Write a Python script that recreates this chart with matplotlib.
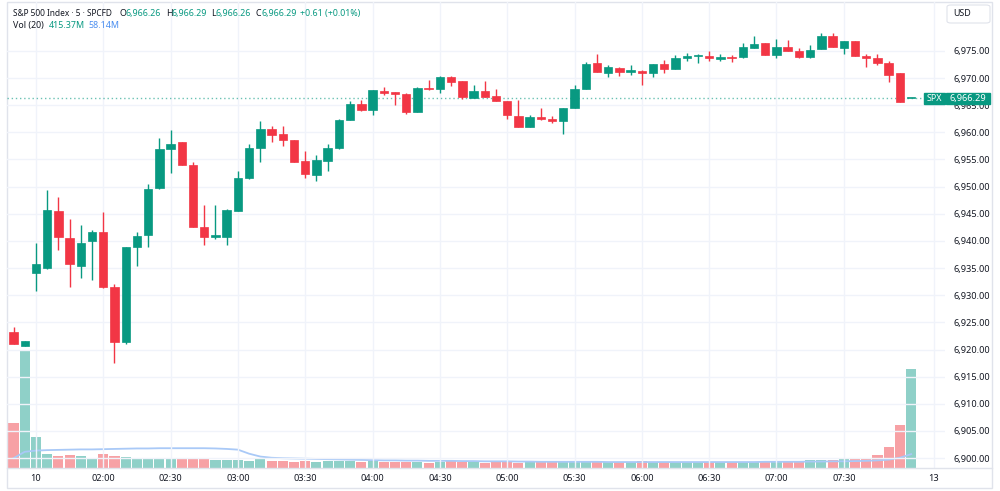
import numpy as np
import matplotlib
matplotlib.use("Agg")
import matplotlib.pyplot as plt
from matplotlib.patches import Rectangle, FancyBboxPatch

plt.rcParams['font.family'] = ['Noto Sans', 'DejaVu Sans']

# ---------------------------- data ----------------------------
opens = [6923.2, 6920.7, 6934.1, 6935.0, 6945.6, 6940.6, 6935.4, 6939.9, 6941.6, 6931.6,
         6921.3, 6938.8, 6941.1, 6949.8, 6956.9, 6958.2, 6954.0, 6942.5, 6940.8, 6940.8,
         6945.6, 6951.5, 6957.1, 6960.6, 6959.6, 6958.5, 6954.8, 6952.2, 6954.8, 6957.1,
         6962.2, 6965.2, 6964.1, 6967.7, 6967.4, 6967.1, 6963.8, 6968.1, 6968.0, 6970.2,
         6969.4, 6966.4, 6967.6, 6966.6, 6965.8, 6963.0, 6961.0, 6962.9, 6962.5, 6962.0,
         6964.4, 6967.9, 6972.7, 6971.0, 6971.8, 6971.1, 6971.3, 6970.9, 6972.5, 6971.6,
         6973.6, 6974.0, 6974.1, 6973.5, 6973.9, 6973.9, 6975.6, 6976.4, 6974.2, 6975.8,
         6975.0, 6973.9, 6975.3, 6977.7, 6975.6, 6976.9, 6974.0, 6973.7, 6972.8, 6970.9,
         6966.26]
highs = [6924.1, 6921.5, 6939.6, 6949.3, 6948.1, 6944.1, 6942.9, 6942.0, 6945.3, 6932.1,
         6938.9, 6941.6, 6950.4, 6959.0, 6960.4, 6958.3, 6954.5, 6946.7, 6946.6, 6945.8,
         6952.9, 6957.8, 6962.0, 6961.2, 6961.2, 6958.5, 6956.6, 6955.8, 6957.9, 6962.5,
         6965.8, 6965.9, 6967.8, 6968.4, 6967.4, 6967.3, 6968.3, 6969.6, 6970.4, 6970.4,
         6969.4, 6968.7, 6969.5, 6967.9, 6965.8, 6966.0, 6963.2, 6964.4, 6963.0, 6964.4,
         6968.7, 6973.0, 6974.4, 6972.4, 6972.1, 6972.4, 6971.5, 6972.5, 6973.3, 6974.2,
         6974.6, 6974.4, 6975.0, 6974.4, 6974.3, 6976.5, 6977.8, 6976.4, 6977.2, 6977.0,
         6975.5, 6976.0, 6978.3, 6978.3, 6976.9, 6976.9, 6974.5, 6974.5, 6973.1, 6970.9,
         6966.29]
lows = [6921.0, 6920.7, 6930.8, 6934.9, 6938.3, 6931.6, 6933.1, 6932.8, 6931.4, 6917.6,
        6921.1, 6935.4, 6938.8, 6949.6, 6952.6, 6953.9, 6942.6, 6939.2, 6940.3, 6939.2,
        6945.5, 6951.4, 6954.6, 6958.2, 6957.5, 6954.5, 6951.5, 6951.1, 6952.9, 6957.0,
        6962.2, 6964.0, 6963.2, 6966.9, 6965.0, 6963.4, 6963.8, 6967.8, 6967.3, 6968.5,
        6966.2, 6966.4, 6966.5, 6965.8, 6962.5, 6960.9, 6961.0, 6962.3, 6961.8, 6959.7,
        6964.4, 6967.9, 6971.1, 6970.2, 6970.4, 6970.6, 6968.8, 6970.2, 6970.9, 6971.6,
        6973.2, 6972.8, 6973.2, 6973.2, 6973.0, 6973.6, 6975.6, 6974.2, 6973.6, 6974.9,
        6973.7, 6973.7, 6975.3, 6975.8, 6974.5, 6974.0, 6972.1, 6972.4, 6969.3, 6965.6,
        6966.26]
closes = [6921.0, 6921.5, 6935.7, 6945.7, 6940.7, 6935.8, 6939.6, 6941.6, 6931.5, 6921.3,
          6938.8, 6940.9, 6949.6, 6957.0, 6957.9, 6954.0, 6942.6, 6940.8, 6941.0, 6945.7,
          6951.6, 6957.1, 6960.6, 6959.5, 6958.6, 6954.6, 6952.3, 6954.9, 6957.2, 6962.2,
          6965.2, 6964.2, 6967.8, 6967.2, 6967.1, 6963.7, 6968.2, 6967.9, 6970.1, 6969.2,
          6966.5, 6967.7, 6966.5, 6965.8, 6963.1, 6960.9, 6962.9, 6962.5, 6962.0, 6964.4,
          6967.9, 6972.6, 6971.1, 6972.0, 6971.1, 6971.4, 6970.9, 6972.5, 6971.7, 6973.7,
          6974.0, 6974.2, 6973.6, 6973.9, 6973.7, 6975.8, 6976.2, 6974.2, 6975.8, 6974.9,
          6973.9, 6975.2, 6977.7, 6975.8, 6976.9, 6974.0, 6973.7, 6972.7, 6970.5, 6965.6,
          6966.29]

# volume in millions
volumes = [189, 490, 129, 59, 50, 53, 50, 42, 57, 52,
           45, 39, 39, 39, 42, 36, 41, 36, 32, 34,
           34, 31, 36, 28, 28, 24, 28, 24, 28, 28,
           28, 24, 28, 24, 24, 24, 24, 21, 24, 31,
           25, 25, 21, 24, 24, 21, 24, 24, 24, 25,
           25, 24, 25, 25, 24, 25, 28, 25, 25, 25,
           25, 25, 25, 25, 24, 25, 25, 28, 28, 28,
           28, 32, 35, 35, 43, 41, 43, 53, 87, 182,
           415]
vol_ma = [41, 68, 73, 75, 76, 77, 78, 78, 79, 80,
          81, 82, 82, 83, 83, 83, 83, 83, 82, 80,
          77, 60, 48, 43, 41, 40, 39, 38, 37, 36,
          35, 34, 33, 32, 32, 31, 31, 30, 30, 30,
          29, 29, 28, 28, 28, 27, 27, 26, 26, 26,
          26, 26, 26, 25, 25, 25, 25, 25, 25, 25,
          25, 25, 25, 25, 25, 25, 25, 26, 26, 26,
          26, 27, 27, 28, 28, 29, 30, 32, 35, 43,
          58]

tick_idx = [2, 8, 14, 20, 26, 32, 38, 44, 50, 56, 62, 68, 74, 82]
tick_labels = ['10', '02:00', '02:30', '03:00', '03:30', '04:00', '04:30',
               '05:00', '05:30', '06:00', '06:30', '07:00', '07:30', '13']
price_ticks = list(range(6900, 6980, 5))
last_price = 6966.29

# ---------------------------- styling ----------------------------
UP = '#089981'
DOWN = '#f23645'
UP_VOL = '#8fd0c8'
DOWN_VOL = '#f7a1a5'
GRID = '#f0f3fa'
TXT = '#131722'

W, H = 1000, 491
def fx(x):
    return x / W
def fy(y):
    return 1 - y / H

fig = plt.figure(figsize=(10, 4.91), dpi=100)

left, right, top, bottom = 7, 945, 2, 468
vol_ax = fig.add_axes([fx(left), fy(bottom), fx(right - left), (bottom - top) / H])
ax = vol_ax.twinx()
vol_ax.set_zorder(0)
ax.set_zorder(1)
ax.patch.set_visible(False)

idx = np.arange(len(opens))
o = np.array(opens); c = np.array(closes)
hi = np.array(highs); lo = np.array(lows)
up = c >= o
colors = np.where(up, UP, DOWN)

# volume
vol_colors = np.where(up, UP_VOL, DOWN_VOL)
vol_ax.bar(idx, volumes, width=0.9, color=vol_colors, linewidth=0)
vol_ax.plot(idx, vol_ma, color='#a9c9f7', lw=1.3)
vol_ax.set_ylim(0, 1955)
vol_ax.set_yticks([])

# grid
for p in price_ticks:
    ax.axhline(p, color=GRID, lw=1, zorder=0)
for t in tick_idx:
    ax.axvline(t, color=GRID, lw=1, zorder=0)

# candles
ax.vlines(idx, lo, hi, colors=colors, lw=1, zorder=2)
body_bottom = np.minimum(o, c)
body_h = np.maximum(np.abs(c - o), 0.2)
ax.bar(idx, body_h, bottom=body_bottom, width=0.75, color=colors,
       edgecolor=colors, linewidth=0.5, zorder=3)

# last price dotted line
ax.axhline(last_price, color=UP, lw=1, ls=(0, (1, 2)), alpha=0.6, zorder=1)

vol_ax.set_xlim(-0.58, 83.02)
ax.set_ylim(6898.18, 6984.0)

ax.yaxis.tick_right()
ax.set_yticks(price_ticks)
ax.set_yticklabels([f'{p:,.2f}' for p in price_ticks])
ax.tick_params(axis='y', length=0, pad=6, labelsize=6.6, labelcolor=TXT)
vol_ax.set_xticks(tick_idx)
vol_ax.set_xticklabels(tick_labels)
vol_ax.tick_params(axis='x', length=0, pad=4, labelsize=6.6, labelcolor=TXT)
vol_ax.get_xticklabels()[-1].set_fontweight('bold')

for a in (ax, vol_ax):
    for s in a.spines.values():
        s.set_visible(False)

# frame and time axis separator
fig.add_artist(Rectangle((fx(7), fy(488)), fx(985), (488 - 2) / H,
                         transform=fig.transFigure, fill=False,
                         edgecolor='#e0e3eb', lw=1))
fig.add_artist(plt.Line2D([fx(7), fx(992)], [fy(468), fy(468)],
                          transform=fig.transFigure, color='#e0e3eb', lw=1))

# price label boxes
fig.add_artist(Rectangle((fx(924), fy(104)), fx(21), 11 / H, transform=fig.transFigure,
                         color=UP, zorder=5))
fig.add_artist(Rectangle((fx(946), fy(104)), fx(44), 11 / H, transform=fig.transFigure,
                         color=UP, zorder=5))
fig.text(fx(934.5), fy(98.5), 'SPX', color='white', fontsize=6.4, ha='center',
         va='center', zorder=6)
fig.text(fx(968), fy(98.5), f'{last_price:,.2f}', color='white', fontsize=6.6,
         ha='center', va='center', zorder=6)

# USD box
fig.add_artist(FancyBboxPatch((fx(947), fy(23)), fx(43), 18 / H,
                              boxstyle='round,pad=0,rounding_size=0.004',
                              transform=fig.transFigure, facecolor='white',
                              edgecolor='#e0e3eb', lw=0.8, zorder=5))
fig.text(fx(962), fy(14), 'USD', color=TXT, fontsize=6.4, ha='center', va='center', zorder=6)

# legend
line1 = [(13, 'S&P 500 Index · 5 · SPCFD', TXT, 6.0),
         (120, 'O', TXT, 6.4), (126, '6,966.26', UP, 6.4),
         (166, 'H', TXT, 6.4), (172, '6,966.29', UP, 6.4),
         (211, 'L', TXT, 6.4), (216, '6,966.26', UP, 6.4),
         (255, 'C', TXT, 6.4), (261, '6,966.29', UP, 6.4),
         (300, '+0.61 (+0.01%)', UP, 6.4)]
for x, s, col, fs in line1:
    fig.text(fx(x), fy(13.5), s, color=col, fontsize=fs, ha='left', va='center')
line2 = [(13, 'Vol (20)', TXT), (49, '415.37M', UP), (88, '58.14M', '#4a8ef0')]
for x, s, col in line2:
    fig.text(fx(x), fy(25.5), s, color=col, fontsize=6.4, ha='left', va='center')

fig.savefig('out.png', dpi=100)
